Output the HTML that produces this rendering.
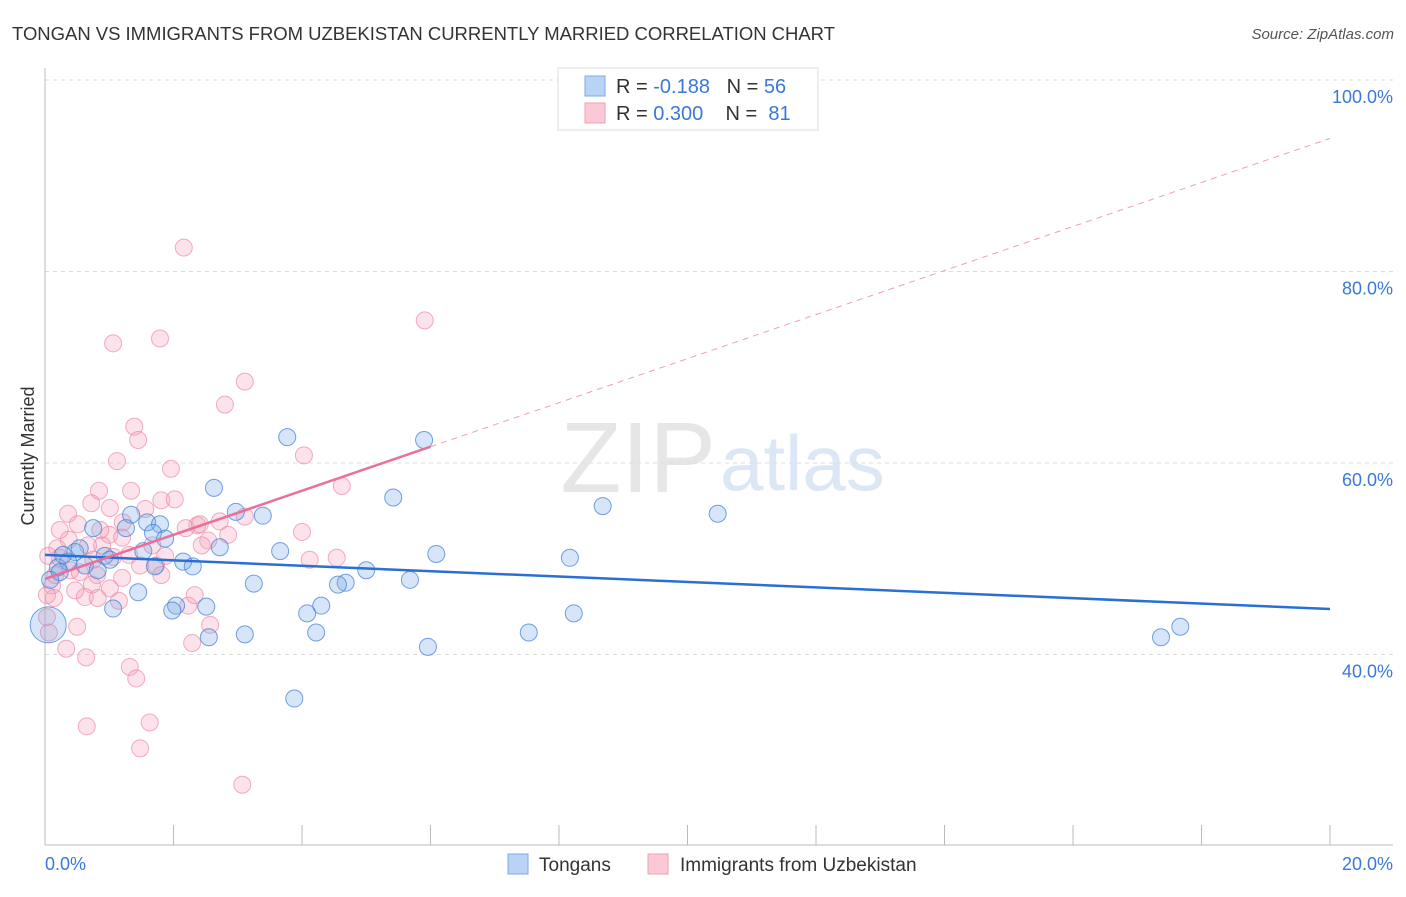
<!DOCTYPE html>
<html><head><meta charset="utf-8"><style>
body{margin:0;background:#fff;font-family:"Liberation Sans",sans-serif;}
svg text{font-family:"Liberation Sans",sans-serif;}
</style></head><body>
<svg id="chart" width="1406" height="892" xmlns="http://www.w3.org/2000/svg">
<text x="12" y="40" font-size="18.5" fill="#333" textLength="823">TONGAN VS IMMIGRANTS FROM UZBEKISTAN CURRENTLY MARRIED CORRELATION CHART</text>
<text x="1394" y="39" font-size="15" fill="#555" font-style="italic" text-anchor="end">Source: ZipAtlas.com</text>
<text x="716" y="492" font-size="100" fill="#e6e6e6" text-anchor="end" font-family="Liberation Serif">ZIP</text>
<text x="720" y="490" font-size="78" fill="#dbe7f5">atlas</text>
<g id="grid"></g>
<g id="axes"></g>
<g id="pts"></g>
<g id="trends"></g>
<text transform="translate(34,456) rotate(-90)" font-size="18" fill="#333" text-anchor="middle">Currently Married</text>
<g>
<rect x="558" y="68" width="260" height="62" fill="#fff" stroke="#ddd"/>
<rect x="585" y="76" width="20" height="20" fill="#b9d3f5" stroke="#7aaae6"/>
<rect x="585" y="103" width="20" height="20" fill="#fbc8d6" stroke="#f0a0b8"/>
<text x="616" y="93" font-size="20" fill="#333">R = <tspan fill="#3a78d8">-0.188</tspan>&#160;&#160;&#160;N = <tspan fill="#3a78d8">56</tspan></text>
<text x="616" y="120" font-size="20" fill="#333">R = <tspan fill="#3a78d8">0.300</tspan>&#160;&#160;&#160;&#160;N = &#160;<tspan fill="#3a78d8">81</tspan></text>
</g>
<g>
<rect x="508" y="854" width="20" height="20" fill="#b9d3f5" stroke="#7aaae6"/>
<text x="539" y="871" font-size="19" fill="#333">Tongans</text>
<rect x="648" y="854" width="20" height="20" fill="#fbc8d6" stroke="#f0a0b8"/>
<text x="680" y="871" font-size="19" fill="#333">Immigrants from Uzbekistan</text>
</g>
</svg>
<script>
const yTicks=[100,80,60,40];
const yTickLabels=["100.0%","80.0%","60.0%","40.0%"];
const xTicks=[0,2,4,6,8,10,12,14,16,18,20];
const tonganX=[3.77,5.90,2.63,5.42,8.68,10.47,2.97,3.39,1.34,1.59,1.79,0.75,1.26,1.68,1.87,2.72,1.53,3.66,6.09,8.17,2.15,2.30,0.20,0.93,0.47,0.36,0.62,0.82,5.00,5.68,3.25,4.68,4.56,1.45,2.04,2.51,1.98,1.06,4.30,4.08,8.23,2.55,3.11,4.22,7.53,5.96,17.37,17.67,3.88,0.05,0.23,0.54,0.08,0.28,1.01,1.71];
const tonganY=[62.7,62.4,57.4,56.4,55.5,54.7,54.9,54.5,54.6,53.8,53.6,53.2,53.2,52.7,52.1,51.2,50.8,50.8,50.5,50.1,49.7,49.2,49.1,50.3,50.7,49.7,49.3,48.8,48.8,47.8,47.4,47.5,47.3,46.5,45.1,45.0,44.6,44.8,45.1,44.3,44.3,41.8,42.1,42.3,42.3,40.8,41.8,42.9,35.4,43.1,48.6,51.1,47.8,50.4,49.9,49.2];
const uzbX=[2.16,5.91,1.06,1.79,3.11,2.80,1.39,1.45,4.03,1.12,1.96,4.62,0.84,1.34,0.72,1.81,2.02,1.01,0.36,1.56,0.51,1.21,2.72,3.11,4.00,2.37,1.00,0.37,0.19,0.67,0.89,1.20,2.41,2.19,2.54,2.44,1.67,1.73,1.06,1.31,0.23,0.05,0.40,0.54,0.81,1.81,1.20,0.73,0.11,0.14,0.62,0.82,1.15,2.23,0.50,0.03,0.06,0.33,0.64,2.29,1.32,1.42,1.63,0.65,1.48,3.07,4.12,4.54,0.03,0.47,1.01,2.57,2.85,1.87,0.86,0.23,1.48,0.16,0.75,2.33];
const uzbY=[82.5,74.9,72.5,73.0,68.5,66.1,63.8,62.4,60.8,60.2,59.4,57.6,57.1,57.1,55.8,56.1,56.2,55.3,54.7,55.2,53.6,53.8,53.9,54.4,52.8,53.5,52.5,52.0,51.1,51.4,51.4,52.2,53.6,53.2,51.9,51.4,51.4,49.3,50.2,50.4,50.1,50.3,48.8,48.6,48.3,48.3,48.0,47.3,47.2,45.9,46.0,45.9,45.6,45.1,42.9,43.9,42.3,40.6,39.7,41.2,38.7,37.5,32.9,32.5,30.2,26.4,49.9,50.1,46.2,46.7,46.9,43.1,52.5,50.3,53.0,53.0,49.3,48.3,49.9,46.2];
const tonganTrend=[[0,50.4],[20,44.75]];
const uzbTrend=[[0,47.9],[6.0,61.7]];
const uzbTrendExt=[[6.0,61.7],[20,93.9]];

const NS="http://www.w3.org/2000/svg";
const X=v=>45+v*64.25;
const Y=v=>80+(100-v)*9.575;
function mk(tag,attrs,parent){const e=document.createElementNS(NS,tag);for(const k in attrs)e.setAttribute(k,attrs[k]);parent.appendChild(e);return e;}
const grid=document.getElementById('grid'),axes=document.getElementById('axes'),pts=document.getElementById('pts'),tr=document.getElementById('trends');
yTicks.forEach((t,i)=>{
  const l=mk('line',{x1:45,x2:1393,y1:Y(t),y2:Y(t),stroke:'#ddd','stroke-dasharray':'4,4'},grid);
  
  
  const tx=mk('text',{x:1393,y:Y(t)+23,'font-size':18,fill:'#3a78d8','text-anchor':'end'},axes);
  tx.textContent=yTickLabels[i];
  
  
});
const ya=mk('line',{x1:45,x2:45,y1:68,y2:845,stroke:'#bbb'},axes);


const xa=mk('line',{x1:45,x2:1393,y1:845,y2:845,stroke:'#bbb'},axes);


xTicks.forEach(t=>{
  const l=mk('line',{x1:X(t),x2:X(t),y1:825,y2:845,stroke:'#bbb'},axes);
  
  
});
const xl0=mk('text',{x:45,y:870,'font-size':18,fill:'#3a78d8'},axes);xl0.textContent='0.0%';


const xl1=mk('text',{x:1393,y:870,'font-size':18,fill:'#3a78d8','text-anchor':'end'},axes);xl1.textContent='20.0%';


uzbX.forEach((v,i)=>{
  const c=mk('circle',{cx:X(v),cy:Y(uzbY[i]),r:8.5,fill:'rgba(244,160,185,0.3)',stroke:'rgba(236,130,160,0.65)','stroke-width':1},pts);
  
  
});
tonganX.forEach((v,i)=>{
  const c=mk('circle',{cx:X(v),cy:Y(tonganY[i]),r:i==49?18:8.5,fill:'rgba(120,170,232,0.3)',stroke:'rgba(70,130,215,0.75)','stroke-width':1},pts);
  
  
});
function seg(p,attrs,name){const l=mk('line',Object.assign({x1:X(p[0][0]),y1:Y(p[0][1]),x2:X(p[1][0]),y2:Y(p[1][1])},attrs),tr);
  
  }
seg(uzbTrendExt,{stroke:'#eba0b6','stroke-width':1,'stroke-dasharray':'6,5'},'uzbekistan-trend-extension');
seg(tonganTrend,{stroke:'#2a6fd6','stroke-width':2.5},'tongan-trend-line');
seg(uzbTrend,{stroke:'#e8709a','stroke-width':2.5},'uzbekistan-trend-line');
</script>
</body></html>
